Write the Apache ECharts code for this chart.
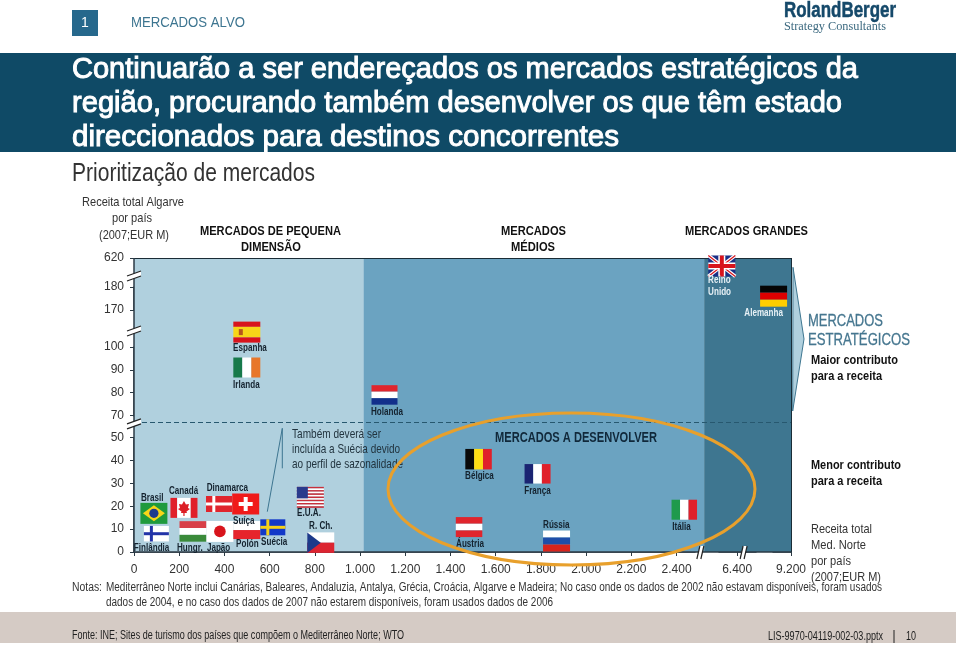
<!DOCTYPE html>
<html><head><meta charset="utf-8">
<style>html,body{margin:0;padding:0;background:#fff}#c{width:960px;height:645px}</style>
<script src="https://cdn.jsdelivr.net/npm/echarts@6/dist/echarts.min.js"></script>
</head><body><div id="c"></div>
<script>
// ---------- data ----------
const countries = ['Espanha','Irlanda','Holanda','Brasil','Canadá','Dinamarca','Suíça','Finlândia','Hungr.','Japão','Polón','Suécia','E.U.A.','R. Ch.','Bélgica','França','Áustria','Rússia','Itália','Reino\nUnido','Alemanha'];
const medNorteRevenue = [499,499,1108,88,221,376,494,99,261,380,499,614,780,826,1524,1785,1482,1869,2434,6332,9123];
const algarveRevenue  = [128,91,79,16.9,19.3,21,21,8,9,9,9.6,10.8,23.9,4.1,40.6,34.2,10.9,4.8,18.5,499,176];
const xTicks = [0,200,400,600,800,1000,1200,1400,1600,1800,2000,2200,2400,6400,9200];
const yTicks = [0,10,20,30,40,50,70,80,90,100,170,180,620];
const xBreaks = [[2480,6320,108],[6480,9120,78]];
const yBreaks = [[50,70,9.7],[100,170,16.2],[180,620,12.7]];
const bands = [[0,1015],[1015,3969],[3969,9200]];
const xBreakMarks = [3608,6435];
const yBreakMarks = [62.5,130,347];

// ---------- styles ----------
const FONT = '"Liberation Sans", Arial, sans-serif';
const DARK='#2b2b2b';
const bandColors = ['#b0d0de','#6ba3c1','#3e7690'];
const labelOffsets = {
 'Espanha':[-13.7,16],'Irlanda':[-13.7,18],'Holanda':[-13.5,17],'Brasil':[-13,-14.9],'Canadá':[-15,-16.2],
 'Dinamarca':[-12.3,-15.5],'Suíça':[-12.7,17.2],'Finlândia':[-22.6,14.5],'Hungr.':[-16,17.2],'Japão':[-13,17.2],
 'Polón':[-10.7,14.5],'Suécia':[-11.7,14.9],'E.U.A.':[-13.3,16.2],'R. Ch.':[-11.7,-16.7],'Bélgica':[-13.5,17],
 'França':[-13.3,17.3],'Áustria':[-13,17],'Rússia':[-13.5,-15.5],'Itália':[-12,18],'Reino\nUnido':[-13.7,20],'Alemanha':[-29.3,17.4]
};
const lightLabels = ['Reino\nUnido','Alemanha'];
const R='#e0202a',W='#ffffff';
function rect(x,y,w,h,fill){return {type:'rect',shape:{x,y,width:w,height:h},style:{fill}};}
function hs(w,h,cols,ws){const t=(ws||cols.map(()=>1)).reduce((a,b)=>a+b,0);let y=-h/2,out=[];cols.forEach((c,i)=>{const d=(ws?ws[i]:1)/t*h;out.push(rect(-w/2,y,w,d,c));y+=d;});return out;}
function vs(w,h,cols,ws){const t=(ws||cols.map(()=>1)).reduce((a,b)=>a+b,0);let x=-w/2,out=[];cols.forEach((c,i)=>{const d=(ws?ws[i]:1)/t*w;out.push(rect(x,-h/2,d,h,c));x+=d;});return out;}
function nordic(w,h,bg,cross,t){return [rect(-w/2,-h/2,w,h,bg),rect(-w/2,-t/2,w,t,cross),rect(-w/5-t/2,-h/2,t,h,cross)];}
function ln(x1,y1,x2,y2,c,lw){return {type:'line',shape:{x1,y1,x2,y2},style:{stroke:c,lineWidth:lw}};}
const flagPainters = {
 'Espanha':()=>hs(27,21,['#d8141c','#f7d618','#d8141c'],[1,2,1]).concat([rect(-8,-3,4,6,'#b5561c')]),
 'Irlanda':()=>vs(27,20,['#17794a',W,'#e8772a']),
 'Holanda':()=>hs(26,19.5,['#e0252d',W,'#12308c']),
 'Brasil':()=>[rect(-13.5,-10.5,27,21,'#1f9a3c'),{type:'polygon',shape:{points:[[-11,0],[0,-8],[11,0],[0,8]]},style:{fill:'#f7d618'}},{type:'circle',shape:{cx:0,cy:0,r:4.6},style:{fill:'#1f3b8c'}}],
 'Canadá':()=>vs(27,20,[R,W,R],[1,2,1]).concat([{type:'polygon',shape:{points:[[0,-7],[2,-3.5],[5,-4],[4,0],[6,1],[2.5,3.5],[3,5],[.6,5],[.6,8],[-.6,8],[-.6,5],[-3,5],[-2.5,3.5],[-6,1],[-4,0],[-5,-4],[-2,-3.5]]},style:{fill:'#dc1f26'}}]),
 'Dinamarca':()=>nordic(26,16,'#e0252d',W,3),
 'Suíça':()=>[rect(-13.5,-10.5,27,21,'#f01a1a'),rect(-7,-2,14,4,W),rect(-2,-7,4,14,W)],
 'Finlândia':()=>nordic(25,15.5,W,'#2233a8',3),
 'Hungr.':()=>hs(27,20.5,['#d84048',W,'#3a8a3a']),
 'Japão':()=>[rect(-13.5,-10.5,27,21,W),{type:'circle',shape:{cx:0,cy:0,r:5.8},style:{fill:'#d8141c'}}],
 'Polón':()=>hs(27,18,[W,'#e6242c']),
 'Suécia':()=>nordic(25,16,'#1238c8','#f5cf1a',3),
 'E.U.A.':()=>{const o=[];const n=7;for(let i=0;i<n*2-1;i++){o.push(rect(-13.5,-10.5+i*21/(n*2-1),27,21/(n*2-1),i%2?W:'#c8303c'));}o.push(rect(-13.5,-10.5,11,11.5,'#2a3a8c'));return o;},
 'R. Ch.':()=>hs(27,20.5,[W,'#dc2430']).concat([{type:'polygon',shape:{points:[[-13.5,-10.25],[0,0],[-13.5,10.25]]},style:{fill:'#1c3a8a'}}]),
 'Bélgica':()=>vs(26.5,20.5,['#0a0a0a','#ffde14','#e0202a']),
 'França':()=>vs(26,19.5,['#1a2472',W,'#e0202a']),
 'Áustria':()=>hs(26.5,20,['#e0252d',W,'#e0252d']),
 'Rússia':()=>hs(27,21,[W,'#1f4ea8','#d8241c']),
 'Itália':()=>vs(25.5,20,['#1f9a4c',W,'#e0202a']),
 'Reino\nUnido':()=>[rect(-13.5,-10.5,27,21,'#1a2f86'),ln(-13.5,-10.5,13.5,10.5,W,3.5),ln(-13.5,10.5,13.5,-10.5,W,3.5),ln(-13.5,-10.5,13.5,10.5,'#d8141c',1.2),ln(-13.5,10.5,13.5,-10.5,'#d8141c',1.2),rect(-13.5,-3.5,27,7,W),rect(-3.5,-10.5,7,21,W),rect(-13.5,-2,27,4,'#d8141c'),rect(-2,-10.5,4,21,'#d8141c')],
 'Alemanha':()=>hs(27,21,['#050505','#dd0000','#ffce00'])
};

const fmtX = v => v>=1000 ? (Math.floor(v/1000)+'.'+String(v%1000).padStart(3,'0')) : String(v);

// ---------- text helpers ----------
const mctx=document.createElement('canvas').getContext('2d');
function T(s,x,y,size,w,o){o=o||{};const bold=!!o.bold,fam=o.family||FONT;
  mctx.font=(bold?'bold ':'')+size+'px '+fam;
  const sc=w?w/mctx.measureText(s).width:1;
  const style={text:s,x:0,y:0,fontFamily:fam,fontSize:size,fontWeight:bold?'bold':'normal',fill:o.color||DARK,textAlign:o.align||'left',textVerticalAlign:'middle'};
  if(o.stroke){style.stroke=o.color;style.lineWidth=o.stroke;}
  return {type:'text',silent:true,z:o.z||10,x,y,scaleX:sc,originX:0,originY:0,style};}
function G(type,shape,style,z){return {type,silent:true,z:z||5,shape,style};}

const graphics=[
 G('rect',{x:72,y:10,width:26,height:26},{fill:'#26688c'}),
 T('1',85,23,14,0,{color:'#fff',align:'center'}),
 T('MERCADOS ALVO',131,23,15,114,{color:'#3d7590'}),
 T('RolandBerger',784,11,22,112,{bold:true,color:'#15496a',stroke:.5}),
 T('Strategy Consultants',784,27,11.5,102,{color:'#3d6a80',family:'"Liberation Serif",serif'}),
 G('rect',{x:0,y:53,width:956,height:99},{fill:'#0f4a66'}),
 T('Continuarão a ser endereçados os mercados estratégicos da',72,70,30,786,{color:'#fff',stroke:1}),
 T('região, procurando também desenvolver os que têm estado',72,104,30,770,{color:'#fff',stroke:1}),
 T('direccionados para destinos concorrentes',72,138,30,547,{color:'#fff',stroke:1}),
 T('Prioritização de mercados',72,174,25,243,{color:'#333'}),
 T('Receita total Algarve',82,202,13,102,{color:'#333'}),
 T('por país',112,218,13,40,{color:'#333'}),
 T('(2007;EUR M)',99,235,13,70,{color:'#333'}),
 T('MERCADOS DE PEQUENA',200,231,13,141,{bold:true,color:'#111'}),
 T('DIMENSÃO',241,247,13,60,{bold:true,color:'#111'}),
 T('MERCADOS',501,231,13,65,{bold:true,color:'#111'}),
 T('MÉDIOS',511,247,13,44,{bold:true,color:'#111'}),
 T('MERCADOS GRANDES',685,231,13,123,{bold:true,color:'#111'}),
 T('MERCADOS A DESENVOLVER',495,438,14,162,{bold:true,color:'#10283a'}),
 T('Também deverá ser',292,434,13,89,{color:'#22343f'}),
 T('incluída a Suécia devido',292,449,13,108,{color:'#22343f'}),
 T('ao perfil de sazonalidade',292,464,13,111,{color:'#22343f'}),
 G('polyline',{points:[[267.3,511.7],[282.3,428.3],[282.3,468.3]]},{stroke:'#3d7590',lineWidth:1,fill:null},12),
 G('polygon',{points:[[793,267.3],[804,339],[792.7,411]]},{fill:'#b0d0de',stroke:'#3e7690',lineWidth:1},6),
 T('MERCADOS',808,321,17,75,{color:'#45768f',stroke:.3}),
 T('ESTRATÉGICOS',808,340,17,102,{color:'#45768f',stroke:.3}),
 T('Maior contributo',811,360,13,87,{bold:true,color:'#111'}),
 T('para a receita',811,376,13,71,{bold:true,color:'#111'}),
 T('Menor contributo',811,465,13,90,{bold:true,color:'#111'}),
 T('para a receita',811,481,13,71,{bold:true,color:'#111'}),
 T('Receita total',811,529,13,61,{color:'#333'}),
 T('Med. Norte',811,545,13,55,{color:'#333'}),
 T('por país',811,561,13,40,{color:'#333'}),
 T('(2007;EUR M)',811,577,13,70,{color:'#333'}),
 T('Notas:',72,588,12,30,{color:'#333'}),
 T('Mediterrâneo Norte inclui Canárias, Baleares, Andaluzia, Antalya, Grécia, Croácia, Algarve e Madeira; No caso onde os dados de 2002 não estavam disponíveis, foram usados',106,588,12,776,{color:'#333'}),
 T('dados de 2004, e no caso dos dados de 2007 não estarem disponíveis, foram usados dados de 2006',106,603,12,447,{color:'#333'}),
 G('rect',{x:0,y:612,width:956,height:31},{fill:'#d5cbc5'},1),
 T('Fonte: INE; Sites de turismo dos países que compõem o Mediterrâneo Norte; WTO',72,636,12,332,{color:'#222'}),
 T('LIS-9970-04119-002-03.pptx',768,637,12,115,{color:'#222'}),
 G('line',{x1:894,y1:630,x2:894,y2:643},{stroke:'#222',lineWidth:1}),
 T('10',906,637,12,10,{color:'#222'}),
 G('ellipse',{cx:571.5,cy:489,rx:183.5,ry:76},{fill:null,stroke:'#e8a02c',lineWidth:3},20)
];

const chart=echarts.init(document.getElementById('c'),null,{renderer:'canvas'});
const axisText={color:'#333',fontFamily:FONT,fontSize:12};
const axisColor='#2b3a44';
chart.setOption({
 animation:false,
 grid:{left:134,top:258,width:657,height:294,containLabel:false},
 xAxis:{type:'value',min:0,max:9200,splitLine:{show:false},
  breaks:xBreaks.map(b=>({start:b[0],end:b[1],gap:b[2]})),breakArea:{show:false},
  axisLine:{show:true,onZero:false,lineStyle:{color:axisColor,width:1.5}},
  axisTick:{show:true,length:4,inside:false,customValues:xTicks,lineStyle:{color:axisColor}},
  axisLabel:Object.assign({margin:12,hideOverlap:false,customValues:xTicks,formatter:v=>fmtX(v)},axisText)},
 yAxis:{type:'value',min:0,max:620,splitLine:{show:false},
  breaks:yBreaks.map(b=>({start:b[0],end:b[1],gap:b[2]})),breakArea:{show:false},
  axisLine:{show:true,onZero:false,lineStyle:{color:axisColor,width:1.5}},
  axisTick:{show:true,length:4,customValues:yTicks,lineStyle:{color:axisColor}},
  axisLabel:Object.assign({margin:10,hideOverlap:false,customValues:yTicks,formatter:v=>String(v)},axisText)},
 graphic:graphics,
 series:[
  {type:'custom',name:'Mercados',coordinateSystem:'cartesian2d',clip:false,z:5,silent:true,
   data:countries.map((n,i)=>[medNorteRevenue[i],algarveRevenue[i],n]),
   encode:{x:0,y:1},
   renderItem(p,api){
    const n=countries[p.dataIndex];const pos=api.coord([api.value(0),api.value(1)]);
    const off=labelOffsets[n];
    const children=flagPainters[n]();
    children.push({type:'text',x:off[0],y:off[1],scaleX:.81,originX:0,originY:0,style:{text:n,x:0,y:0,fontFamily:FONT,fontSize:10,fontWeight:'bold',lineHeight:12,fill:lightLabels.includes(n)?'#e6f0f5':'#14222e',textAlign:'left',textVerticalAlign:'middle'},z2:5});
    return {type:'group',x:pos[0],y:pos[1],children};
   },
   markArea:{silent:true,z:1,data:bands.map((b,i)=>[{xAxis:b[0],yAxis:0,itemStyle:{color:bandColors[i],opacity:1}},{xAxis:b[1],yAxis:620}])},
   markLine:{silent:true,symbol:'none',label:{show:false},animation:false,z:3,
    data:[
     [{xAxis:0,yAxis:64,lineStyle:{color:'#27586f',type:[5,3],width:1}},{xAxis:9200,yAxis:64}],
     [{xAxis:0,yAxis:620,lineStyle:{color:'#1a2c36',type:'solid',width:1.2}},{xAxis:9200,yAxis:620}],
     [{xAxis:9200,yAxis:0,lineStyle:{color:'#1a2c36',type:'solid',width:1}},{xAxis:9200,yAxis:620}],
     [{xAxis:0,yAxis:0,lineStyle:{color:axisColor,type:'solid',width:1.5}},{xAxis:9200,yAxis:0}],
     [{xAxis:0,yAxis:0,lineStyle:{color:axisColor,type:'solid',width:1.5}},{xAxis:0,yAxis:620}]
    ]}
  },
  {type:'custom',name:'Quebras X',coordinateSystem:'cartesian2d',clip:false,z:6,silent:true,
   data:xBreakMarks.map(v=>[v,0]),encode:{x:0,y:1},
   renderItem(p,api){const c=api.coord([api.value(0),0]);
    return {type:'group',x:c[0],y:c[1],children:[
     {type:'polygon',shape:{points:[[-5,7],[-2,-6],[2,-6],[-1,7]]},style:{fill:'#fff'}},
     ln(-5,7,-2,-6,'#222',1.2),ln(-1,7,2,-6,'#222',1.2)]};}
  },
  {type:'custom',name:'Quebras Y',coordinateSystem:'cartesian2d',clip:false,z:6,silent:true,
   data:yBreakMarks.map(v=>[0,v]),encode:{x:0,y:1},
   renderItem(p,api){const c=api.coord([0,api.value(1)]);
    return {type:'group',x:c[0],y:c[1],children:[
     {type:'polygon',shape:{points:[[-7,0],[7,-5],[7,0],[-7,5]]},style:{fill:'#fff'}},
     ln(-7,0,7,-5,'#222',1.2),ln(-7,5,7,0,'#222',1.2)]};}
  }
 ]
});
</script></body></html>
